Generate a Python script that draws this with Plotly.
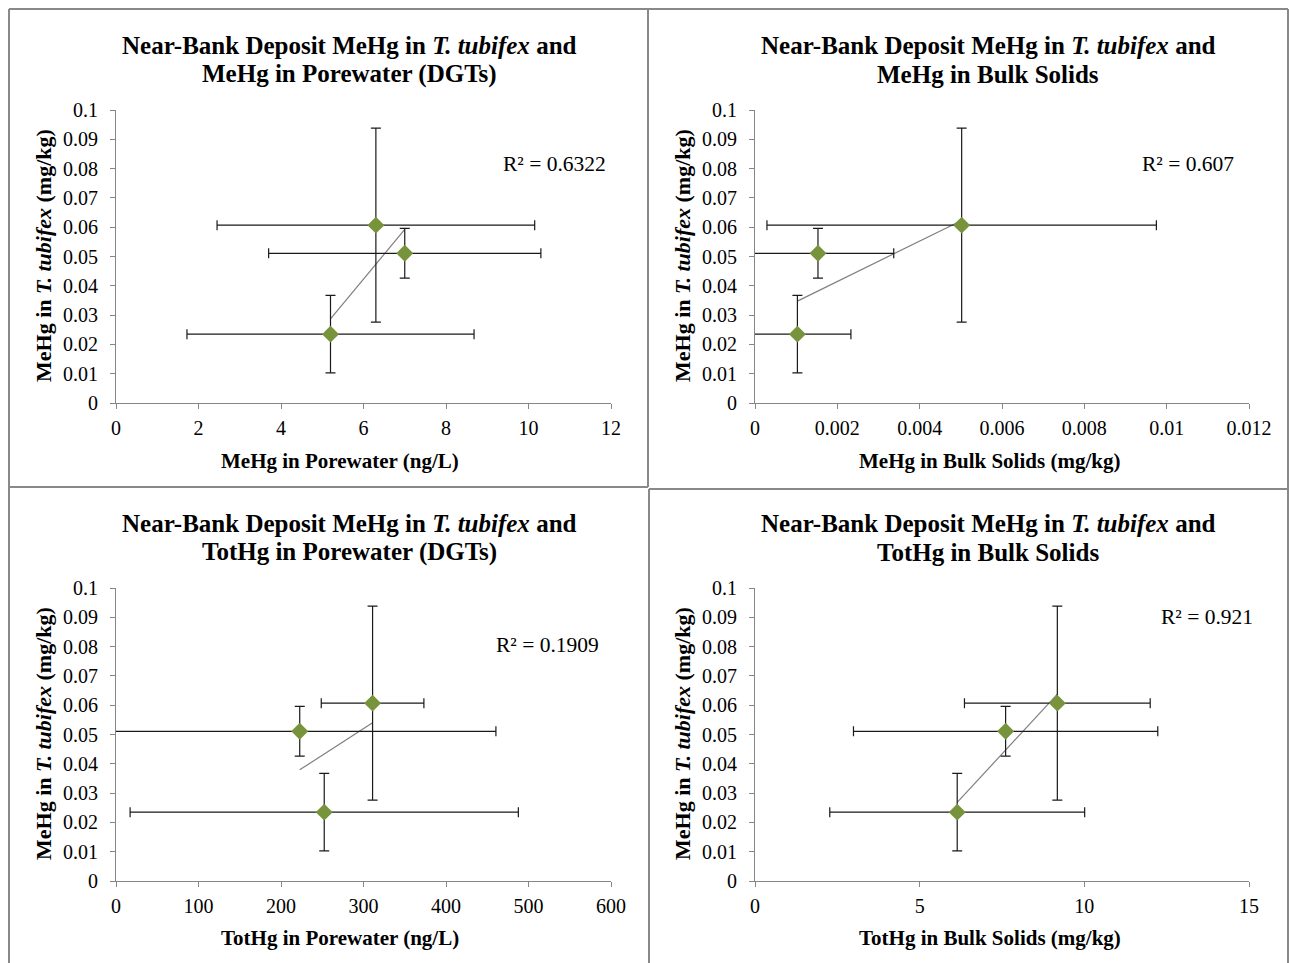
import numpy as np
import plotly.graph_objects as go

W, H = 1289, 963

# ---- data ----
y_tubifex = [0.0607, 0.0511, 0.0235]
y_tubifex_err = [0.0331, 0.0085, 0.0132]

x_mehg_porewater = [6.30, 7.00, 5.20]
x_mehg_porewater_err = [3.85, 3.30, 3.48]

x_mehg_bulk = [0.00502, 0.00153, 0.00103]
x_mehg_bulk_err = [0.00473, 0.00184, 0.00130]

x_tothg_porewater = [311.0, 222.7, 252.4]
x_tothg_porewater_err = [62.2, 237.8, 235.3]

x_tothg_bulk = [9.18, 7.61, 6.14]
x_tothg_bulk_err = [2.82, 4.62, 3.87]

title_line1 = "Near-Bank Deposit MeHg in <i>T. tubifex</i> and"
title_line2 = [
    "MeHg in Porewater (DGTs)",
    "MeHg in Bulk Solids",
    "TotHg in Porewater (DGTs)",
    "TotHg in Bulk Solids",
]
x_titles = [
    "MeHg in Porewater (ng/L)",
    "MeHg in Bulk Solids (mg/kg)",
    "TotHg in Porewater (ng/L)",
    "TotHg in Bulk Solids (mg/kg)",
]
y_title = "MeHg in <i>T. tubifex</i> (mg/kg)"
r2_labels = ["R² = 0.6322", "R² = 0.607", "R² = 0.1909", "R² = 0.921"]

y_tickvals = [0, 0.01, 0.02, 0.03, 0.04, 0.05, 0.06, 0.07, 0.08, 0.09, 0.1]
y_ticktext = ["0", "0.01", "0.02", "0.03", "0.04", "0.05", "0.06", "0.07", "0.08", "0.09", "0.1"]

x_tick_sets = [
    ([0, 2, 4, 6, 8, 10, 12], ["0", "2", "4", "6", "8", "10", "12"]),
    ([0, 0.002, 0.004, 0.006, 0.008, 0.01, 0.012],
     ["0", "0.002", "0.004", "0.006", "0.008", "0.01", "0.012"]),
    ([0, 100, 200, 300, 400, 500, 600], ["0", "100", "200", "300", "400", "500", "600"]),
    ([0, 5, 10, 15], ["0", "5", "10", "15"]),
]
x_ranges = [[0, 12], [0, 0.012], [0, 600], [0, 15]]

x_series = [x_mehg_porewater, x_mehg_bulk, x_tothg_porewater, x_tothg_bulk]
x_err_series = [x_mehg_porewater_err, x_mehg_bulk_err, x_tothg_porewater_err, x_tothg_bulk_err]

# ---- layout geometry (pixels) ----
FONT = "Liberation Serif"
AXIS_GRAY = "#868686"
BORDER_GRAY = "#898989"
GREEN = "#77933C"

def fx(px):
    return px / W

def fy(py):
    return 1 - py / H

plot_x = [(116, 611), (755, 1249), (116, 611), (755, 1249)]
plot_y = [(110, 403), (110, 403), (588, 881), (588, 881)]
title_x = [349, 988, 349, 988]
title_y1 = [45, 45, 523, 523]
title_y2 = [74, 74, 552, 552]
ytitle_pos = [(43, 256), (682, 256), (43, 734), (682, 734)]
xtitle_pos = [(340, 461), (989, 461), (340, 938), (990, 938)]
r2_pos = [(501, 164), (1140, 164), (494, 645), (1159, 617)]

fig = go.Figure()
layout = dict(
    width=W, height=H,
    margin=dict(l=0, r=0, t=0, b=0, pad=0, autoexpand=False),
    paper_bgcolor="white", plot_bgcolor="white",
    showlegend=False,
    font=dict(family=FONT, color="black"),
)
annotations = []

for i in range(4):
    n = "" if i == 0 else str(i + 1)
    xa, ya = "x" + n, "y" + n
    xs = x_series[i]
    # trendline (linear fit over data x range)
    k, b = np.polyfit(xs, y_tubifex, 1)
    xt = [min(xs), max(xs)]
    yt = [k * v + b for v in xt]
    fig.add_trace(go.Scatter(
        x=xt, y=yt, mode="lines", xaxis=xa, yaxis=ya,
        line=dict(color="#7f7f7f", width=1.2), hoverinfo="skip"))
    fig.add_trace(go.Scatter(
        x=xs, y=y_tubifex, mode="markers", xaxis=xa, yaxis=ya,
        marker=dict(symbol="diamond", size=13, color=GREEN, line=dict(color=GREEN, width=0)),
        error_x=dict(type="data", array=x_err_series[i], color="#1a1a1a", thickness=1.2, width=5),
        error_y=dict(type="data", array=y_tubifex_err, color="#1a1a1a", thickness=1.2, width=5),
    ))
    xv, xtxt = x_tick_sets[i]
    layout["xaxis" + n] = dict(
        domain=[fx(plot_x[i][0]), fx(plot_x[i][1])], anchor=ya,
        range=x_ranges[i], tickmode="array", tickvals=xv, ticktext=xtxt,
        showline=True, linecolor=AXIS_GRAY, linewidth=1,
        ticks="outside", ticklen=5, tickcolor=AXIS_GRAY, tickwidth=1,
        showgrid=False, zeroline=False, automargin=False,
        tickfont=dict(family=FONT, size=20, color="black"),
        ticklabelstandoff=2,
    )
    layout["yaxis" + n] = dict(
        domain=[fy(plot_y[i][1]), fy(plot_y[i][0])], anchor=xa,
        range=[0, 0.1], tickmode="array", tickvals=y_tickvals, ticktext=y_ticktext,
        showline=True, linecolor=AXIS_GRAY, linewidth=1,
        ticks="outside", ticklen=5, tickcolor=AXIS_GRAY, tickwidth=1,
        showgrid=False, zeroline=False, automargin=False,
        tickfont=dict(family=FONT, size=20, color="black"),
        ticklabelstandoff=8,
    )
    for txt, ty in ((title_line1, title_y1[i]), (title_line2[i], title_y2[i])):
        annotations.append(dict(
            text="<b>" + txt + "</b>", x=fx(title_x[i]), y=fy(ty),
            xref="paper", yref="paper", xanchor="center", yanchor="middle",
            showarrow=False, font=dict(family=FONT, size=25, color="black")))
    annotations.append(dict(
        text="<b>" + y_title + "</b>", x=fx(ytitle_pos[i][0]), y=fy(ytitle_pos[i][1]),
        xref="paper", yref="paper", xanchor="center", yanchor="middle", textangle=-90,
        showarrow=False, font=dict(family=FONT, size=22, color="black")))
    annotations.append(dict(
        text="<b>" + x_titles[i] + "</b>", x=fx(xtitle_pos[i][0]), y=fy(xtitle_pos[i][1]),
        xref="paper", yref="paper", xanchor="center", yanchor="middle",
        showarrow=False, font=dict(family=FONT, size=21, color="black")))
    annotations.append(dict(
        text=r2_labels[i], x=fx(r2_pos[i][0]), y=fy(r2_pos[i][1]),
        xref="paper", yref="paper", xanchor="left", yanchor="middle",
        showarrow=False, font=dict(family=FONT, size=21.5, color="black")))

# panel borders
border_lines = [
    (9, 9, 648, 9), (9, 9, 9, 963), (648, 9, 648, 487), (9, 487, 648, 487),
    (648, 9, 1288, 9), (1288, 9, 1288, 963), (649, 489, 1288, 489), (649, 489, 649, 963),
]
shapes = []
for (x0, y0, x1, y1) in border_lines:
    shapes.append(dict(type="line", xref="paper", yref="paper",
                       x0=fx(x0), y0=fy(y0), x1=fx(x1), y1=fy(y1),
                       line=dict(color=BORDER_GRAY, width=2)))

layout["annotations"] = annotations
layout["shapes"] = shapes
fig.update_layout(**layout)
fig.write_html("out.html")
